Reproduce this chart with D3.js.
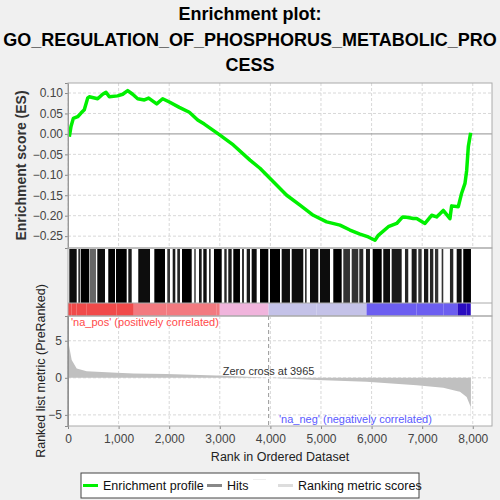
<!DOCTYPE html>
<html>
<head>
<meta charset="utf-8">
<script src="https://cdn.jsdelivr.net/npm/d3@7"></script>
<style>
  body { margin: 0; background: #f0f0f0; }
  svg { font-family: "Liberation Sans", Arial, sans-serif; }
</style>
</head>
<body>
<svg id="chart" width="500" height="500"></svg>
<script>
// running enrichment score [rank, ES]
const esRank = [26, 59, 105, 191, 257, 322, 389, 421, 586, 685, 751, 817, 982, 1081, 1180, 1278, 1377, 1509, 1594, 1753, 1871, 2003, 2200, 2398, 2563, 2694, 2970, 3267, 3597, 3794, 4058, 4322, 4585, 4848, 5112, 5375, 5573, 5771, 5935, 6067, 6133, 6331, 6496, 6614, 6693, 6824, 6891, 7055, 7187, 7285, 7417, 7549, 7582, 7714, 7780, 7846, 7879, 7912, 7958];
const esValue = [-0.007, 0.018, 0.038, 0.042, 0.051, 0.059, 0.0875, 0.091, 0.086, 0.097, 0.102, 0.091, 0.093, 0.097, 0.106, 0.097, 0.086, 0.083, 0.0875, 0.0735, 0.086, 0.078, 0.065, 0.053, 0.034, 0.024, 0.000, -0.027, -0.064, -0.084, -0.117, -0.150, -0.174, -0.199, -0.215, -0.223, -0.235, -0.245, -0.252, -0.260, -0.248, -0.227, -0.219, -0.203, -0.204, -0.207, -0.207, -0.219, -0.199, -0.203, -0.187, -0.207, -0.176, -0.178, -0.145, -0.121, -0.090, -0.031, 0.003];

// hit clusters [start rank, end rank, darkness]
const hitStart = [26, 204, 251, 435, 579, 796, 949, 1192, 1389, 1706, 1962, 2069, 2160, 2253, 2496, 2589, 2674, 2787, 2885, 3089, 3168, 3267, 3439, 3532, 3630, 3795, 3992, 4223, 4421, 4684, 4783, 4980, 5243, 5441, 5607, 5757, 5889, 6022, 6231, 6397, 6660, 6792, 6923, 7036, 7154, 7253, 7385, 7549, 7682, 7812];
const hitEnd = [172, 237, 421, 553, 731, 929, 1160, 1259, 1621, 1917, 2016, 2121, 2213, 2445, 2524, 2642, 2741, 2820, 3038, 3136, 3235, 3399, 3478, 3597, 3729, 3959, 4190, 4387, 4650, 4717, 4947, 5178, 5409, 5573, 5737, 5836, 5968, 6200, 6364, 6595, 6725, 6891, 6990, 7120, 7220, 7318, 7417, 7615, 7780, 7964];
const hitShade = [0.95, 0.8, 1, 0.6, 0.95, 1, 1, 0.9, 0.95, 1, 0.8, 0.9, 0.85, 1, 0.8, 0.9, 0.95, 0.8, 1, 0.85, 0.9, 1, 0.8, 0.9, 0.95, 1, 1, 0.95, 0.95, 0.8, 0.95, 0.95, 1, 0.8, 0.8, 0.85, 0.9, 1, 0.95, 0.9, 0.85, 0.9, 0.8, 0.9, 0.85, 0.8, 0.8, 0.85, 0.95, 1];

// ranked list metric [rank, value]
const metricRank = [0, 73, 172, 370, 962, 1300, 1950, 2940, 3000, 3965, 4915, 5900, 6891, 7417, 7700, 7747, 7879, 7958, 7964];
const metricValue = [5.1, 2.4, 1.27, 0.9, 0.68, 0.58, 0.5, 0.32, 0.31, 0, -0.31, -0.54, -1.0, -1.35, -1.8, -1.89, -2.6, -3.9, -5.9];

const xTicks = [0, 1000, 2000, 3000, 4000, 5000, 6000, 7000, 8000];
const esTicks = [0.10, 0.05, 0.00, -0.05, -0.10, -0.15, -0.20, -0.25];
const metricTicks = [5, 0, -5];
const zeroCross = 3965;

const svg = d3.select("#chart");
const L = 68, R = 492;
const top1 = 83, bot1 = 248, hitTop = 249, hitBot = 303, barBot = 316, bot2 = 426;

const x = d3.scaleLinear().domain([0, 8380]).range([L, R]);
const yES = d3.scaleLinear().domain([-0.279, 0.1245]).range([bot1, top1]);
const yM = d3.scaleLinear().domain([-6.5, 8.34]).range([bot2, barBot]);
const grey = d3.interpolateRgb("#ffffff", "#000000");

// title
const title = svg.append("g").attr("font-weight", "bold").attr("font-size", 18)
  .attr("text-anchor", "middle").attr("fill", "#000");
title.append("text").attr("x", 250).attr("y", 20).text("Enrichment plot:");
title.append("text").attr("x", 250).attr("y", 46).text("GO_REGULATION_OF_PHOSPHORUS_METABOLIC_PRO");
title.append("text").attr("x", 250).attr("y", 70.5).text("CESS");

// panel backgrounds
svg.append("rect").attr("x", L).attr("y", top1).attr("width", R - L).attr("height", bot2 - top1).attr("fill", "#fff");

// --- top panel: enrichment score
const g1 = svg.append("g");
g1.selectAll(".vg").data(xTicks).join("line")
  .attr("x1", d => x(d)).attr("x2", d => x(d)).attr("y1", top1).attr("y2", bot1)
  .attr("stroke", "#d8d8d8").attr("stroke-dasharray", "3,2");
g1.selectAll(".hg").data(esTicks.filter(d => d !== 0)).join("line")
  .attr("x1", L).attr("x2", R).attr("y1", d => yES(d)).attr("y2", d => yES(d))
  .attr("stroke", "#d8d8d8").attr("stroke-dasharray", "3,2");
g1.append("line").attr("x1", L).attr("x2", R).attr("y1", yES(0)).attr("y2", yES(0))
  .attr("stroke", "#909090");

const esData = esRank.map((r, i) => [r, esValue[i]]);
g1.append("path").datum(esData)
  .attr("d", d3.line().x(d => x(d[0])).y(d => yES(d[1])))
  .attr("fill", "none").attr("stroke", "#00f000").attr("stroke-width", 3.5)
  .attr("stroke-linejoin", "round");

g1.append("g").attr("transform", `translate(${L},0)`)
  .call(d3.axisLeft(yES).tickValues(esTicks).tickFormat(d3.format(".2f")).tickSize(3))
  .call(a => a.select(".domain").attr("stroke", "#888"))
  .call(a => a.selectAll(".tick line").attr("stroke", "#888"))
  .call(a => a.selectAll("text").attr("font-size", 12).attr("fill", "#444")
    .attr("font-family", "Liberation Sans, Arial, sans-serif").attr("x", -5));

g1.append("rect").attr("x", L).attr("y", top1).attr("width", R - L).attr("height", bot1 - top1)
  .attr("fill", "none").attr("stroke", "#aaa");

svg.append("text").attr("transform", `translate(26,${(top1 + bot1) / 2}) rotate(-90)`)
  .attr("text-anchor", "middle").attr("font-size", 14).attr("font-weight", "bold")
  .attr("fill", "#333").text("Enrichment score (ES)");

// --- hits panel
const g2 = svg.append("g");
g2.selectAll("rect").data(hitStart.map((s, i) => [s, hitEnd[i], hitShade[i]])).join("rect")
  .attr("x", d => x(d[0])).attr("width", d => Math.max(1, x(d[1]) - x(d[0])))
  .attr("y", hitTop).attr("height", hitBot - hitTop)
  .attr("fill", d => grey(d[2]));

// colour bar from metric
const barColor = v => v > 0.55 ? "#f04a4a" : v > 0.31 ? "#f27a80" : v > 0 ? "#f0b4dc"
  : v > -0.54 ? "#c4c2e8" : v > -1.8 ? "#6c5ef0" : "#2a0cc0";
const bands = metricRank.slice(0, -1).map((r, i) => [r, metricRank[i + 1], (metricValue[i] + metricValue[i + 1]) / 2]);
g2.append("g").selectAll("rect").data(bands).join("rect")
  .attr("x", d => x(d[0])).attr("width", d => x(d[1]) - x(d[0]))
  .attr("y", hitBot).attr("height", barBot - hitBot)
  .attr("fill", d => barColor(d[2]));

g2.append("rect").attr("x", L).attr("y", bot1).attr("width", R - L).attr("height", barBot - bot1)
  .attr("fill", "none").attr("stroke", "#aaa");
g2.append("line").attr("x1", L).attr("x2", R).attr("y1", hitBot).attr("y2", hitBot).attr("stroke", "#aaa");

// --- bottom panel: ranked list metric
const g3 = svg.append("g");
g3.selectAll(".vg").data(xTicks).join("line")
  .attr("x1", d => x(d)).attr("x2", d => x(d)).attr("y1", barBot).attr("y2", bot2)
  .attr("stroke", "#d8d8d8").attr("stroke-dasharray", "3,2");
g3.selectAll(".hg").data(metricTicks).join("line")
  .attr("x1", L).attr("x2", R).attr("y1", d => yM(d)).attr("y2", d => yM(d))
  .attr("stroke", "#d8d8d8").attr("stroke-dasharray", "3,2");

const mData = metricRank.map((r, i) => [r, metricValue[i]]);
g3.append("path").datum(mData)
  .attr("d", d3.area().x(d => x(d[0])).y0(yM(0)).y1(d => yM(d[1])))
  .attr("fill", "#c0c0c0");

g3.append("line").attr("x1", x(zeroCross)).attr("x2", x(zeroCross)).attr("y1", barBot).attr("y2", bot2)
  .attr("stroke", "#999").attr("stroke-dasharray", "4,3");
g3.append("text").attr("x", x(zeroCross)).attr("y", 374.5).attr("text-anchor", "middle")
  .attr("font-size", 11).attr("fill", "#333").text("Zero cross at " + zeroCross);

g3.append("text").attr("x", 71).attr("y", 326).attr("font-size", 11).attr("fill", "#ff4a4a")
  .text("'na_pos' (positively correlated)");
g3.append("text").attr("x", 279).attr("y", 422.5).attr("font-size", 11).attr("fill", "#5a5aff")
  .text("'na_neg' (negatively correlated)");

g3.append("g").attr("transform", `translate(${L},0)`)
  .call(d3.axisLeft(yM).tickValues(metricTicks).tickSize(3))
  .call(a => a.select(".domain").attr("stroke", "#888"))
  .call(a => a.selectAll(".tick line").attr("stroke", "#888"))
  .call(a => a.selectAll("text").attr("font-size", 12).attr("fill", "#444")
    .attr("font-family", "Liberation Sans, Arial, sans-serif").attr("x", -6));

g3.append("g").attr("transform", `translate(0,${bot2})`)
  .call(d3.axisBottom(x).tickValues(xTicks).tickFormat(d3.format(",")).tickSize(3))
  .call(a => a.select(".domain").remove())
  .call(a => a.selectAll(".tick line").attr("stroke", "#888"))
  .call(a => a.selectAll("text").attr("font-size", 12).attr("fill", "#444")
    .attr("font-family", "Liberation Sans, Arial, sans-serif").attr("y", 8));

g3.append("rect").attr("x", L).attr("y", barBot).attr("width", R - L).attr("height", bot2 - barBot)
  .attr("fill", "none").attr("stroke", "#aaa");
g3.append("line").attr("x1", L).attr("x2", L).attr("y1", barBot).attr("y2", bot2).attr("stroke", "#888");

svg.append("text").attr("x", (L + R) / 2).attr("y", 461).attr("text-anchor", "middle")
  .attr("font-size", 12.5).attr("fill", "#222").text("Rank in Ordered Dataset");
svg.append("text").attr("transform", `translate(45,371) rotate(-90)`)
  .attr("text-anchor", "middle").attr("font-size", 12.5).attr("fill", "#222")
  .text("Ranked list metric (PreRanked)");

// legend
const lg = svg.append("g");
lg.append("rect").attr("x", 81).attr("y", 473).attr("width", 338).attr("height", 25)
  .attr("fill", "#fff").attr("stroke", "#444");
const items = [
  { x: 83, label: "Enrichment profile", color: "#00f000" },
  { x: 207, label: "Hits", color: "#888" },
  { x: 278, label: "Ranking metric scores", color: "#ddd" }
];
lg.selectAll("line").data(items).join("line")
  .attr("x1", d => d.x).attr("x2", d => d.x + 15).attr("y1", 485.5).attr("y2", 485.5)
  .attr("stroke", d => d.color).attr("stroke-width", 3);
lg.selectAll("text").data(items).join("text")
  .attr("x", d => d.x + 20).attr("y", 490).attr("font-size", 12.5).attr("fill", "#111")
  .text(d => d.label);
lg.append("line").attr("x1", 253).attr("x2", 266).attr("y1", 479.5).attr("y2", 479.5)
  .attr("stroke", "#eee").attr("stroke-width", 1);
</script>
</body>
</html>
